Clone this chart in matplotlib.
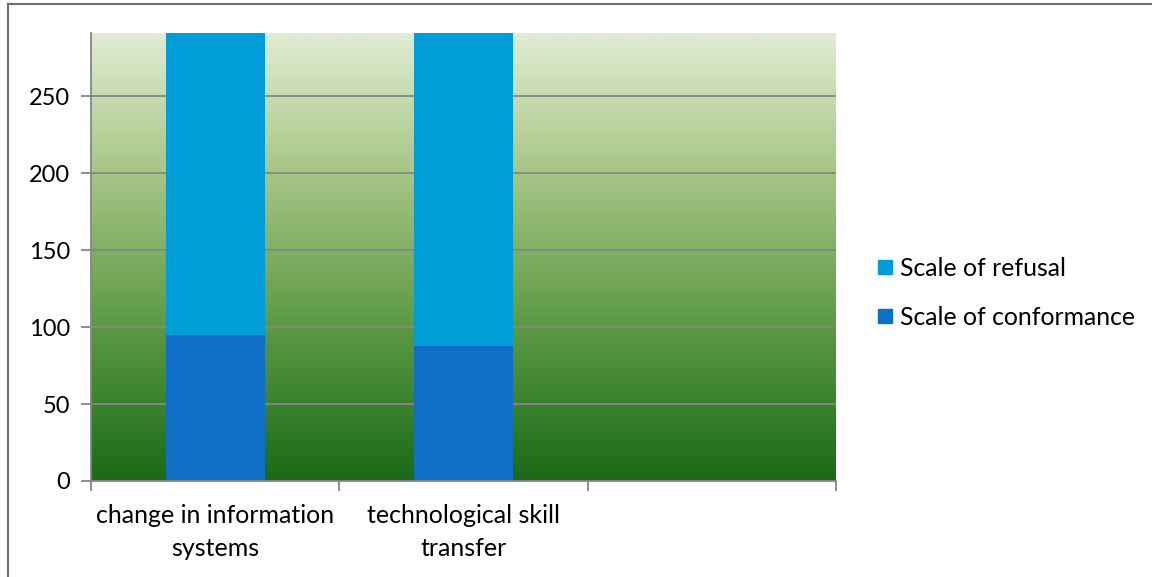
import matplotlib.pyplot as plt
import numpy as np
from matplotlib.colors import LinearSegmentedColormap
from matplotlib.lines import Line2D

plt.rcParams['font.family'] = ['Lato', 'DejaVu Sans']

# data
categories = ['change in information\nsystems', 'technological skill\ntransfer', '']
conformance = [95, 88, 0]
refusal = [205, 212, 0]
y_max = 291

c_refusal = '#009dd9'
c_conf = '#0f6fc6'
grid_c = '#868686'

fig = plt.figure(figsize=[11.52, 5.77], dpi=100)
ax = fig.add_axes([0.079, 0.1664, 0.6467, 0.7764])

# gradient background of plot area
grad = LinearSegmentedColormap.from_list('g', [(0.0, '#1a6a18'), (0.35, '#5d9a45'),
                                               (0.7, '#a9c788'), (1.0, '#e0ecd4')])
ax.imshow(np.linspace(0, 1, 256).reshape(-1, 1), cmap=grad, aspect='auto',
          extent=[0, len(categories), 0, y_max], origin='lower', zorder=0)

x = np.arange(len(categories)) + 0.5
ax.bar(x[:2], conformance[:2], width=0.4, color=c_conf, zorder=3, label='Scale of conformance')
ax.bar(x[:2], refusal[:2], width=0.4, bottom=conformance[:2], color=c_refusal, zorder=3,
       label='Scale of refusal')

ax.set_xlim(0, len(categories))
ax.set_ylim(0, y_max)
ax.set_yticks(np.arange(0, 251, 50))
for yv in np.arange(50, 251, 50):
    ax.axhline(yv, color=grid_c, lw=1.3, zorder=2)

ax.set_xticks(np.arange(len(categories) + 1))
ax.set_xticklabels([])
for xi, lab in zip(x, categories):
    ax.text(xi, -15, lab, ha='center', va='top', fontsize=18, linespacing=1.5)

for s in ['top', 'right']:
    ax.spines[s].set_visible(False)
for s in ['left', 'bottom']:
    ax.spines[s].set_color(grid_c)
    ax.spines[s].set_linewidth(1.3)
    ax.spines[s].set_zorder(4)
ax.tick_params(axis='y', length=7, width=1.3, color=grid_c, labelsize=17, pad=8)
ax.tick_params(axis='x', length=7, width=1.3, color=grid_c)

handles = [Line2D([], [], marker='s', ls='', color=c_refusal, markersize=10),
           Line2D([], [], marker='s', ls='', color=c_conf, markersize=10)]
fig.legend(handles, ['Scale of refusal', 'Scale of conformance'], loc='center left',
           bbox_to_anchor=(0.736, 0.492), frameon=False, fontsize=17.8,
           handletextpad=0.0, labelspacing=1.05, handlelength=1.2)

# outer chart frame (top and left edges visible)
fig.add_artist(Line2D([0.007, 1], [0.993, 0.993], color='#6e6e6e', lw=1.5))
fig.add_artist(Line2D([0.007, 0.007], [0, 0.993], color='#6e6e6e', lw=1.5))

plt.savefig('out.png', dpi=100)
